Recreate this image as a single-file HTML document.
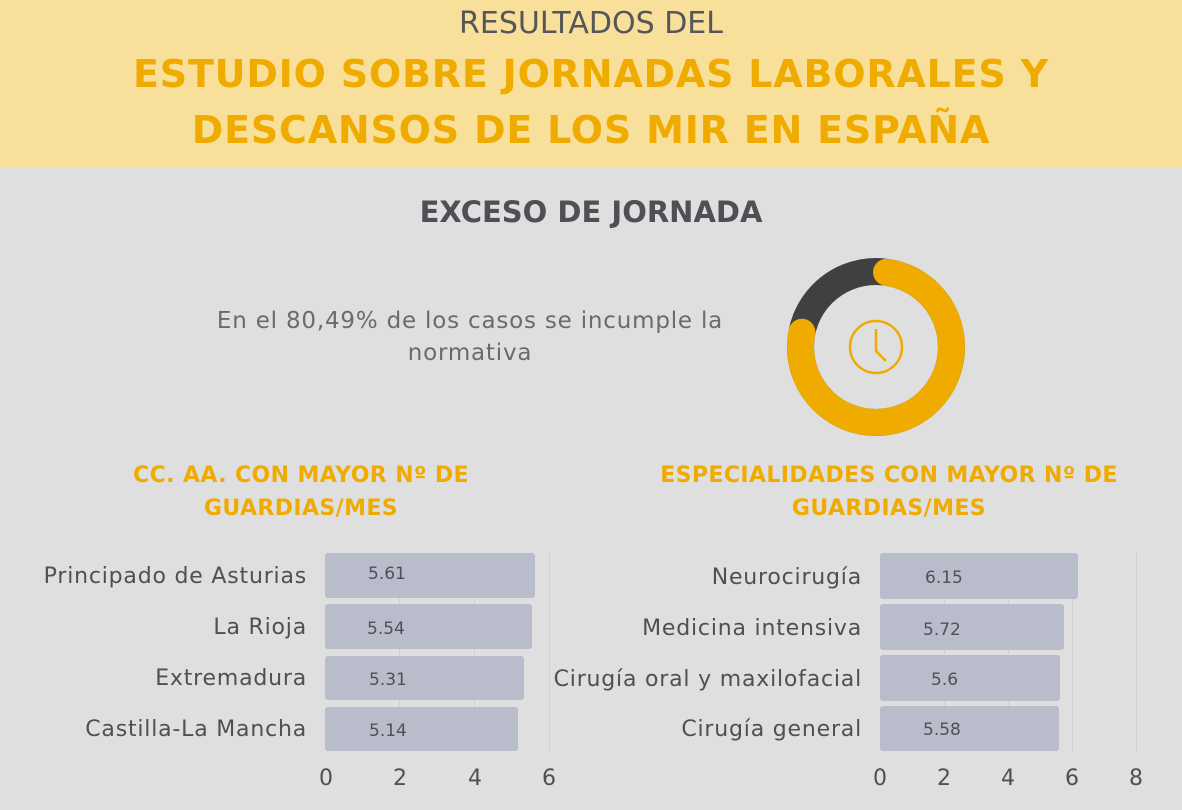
<!DOCTYPE html>
<html><head><meta charset="utf-8"><style>
*{margin:0;padding:0;box-sizing:border-box}
body{width:1182px;height:810px;background:#dfdfe0;font-family:"DejaVu Sans","Liberation Sans",sans-serif;position:relative;overflow:hidden}
.hdr{position:absolute;left:0;top:0;width:1182px;height:168px;background:#f8e09b}
.t{position:absolute;width:100%;text-align:center;white-space:nowrap}
.a{position:absolute;white-space:nowrap}
.lab{font-size:22px;color:#4f4f55;text-align:right;letter-spacing:0.8px}
.bar{position:absolute;background:#b9bccb;border-radius:3px}
.val{position:absolute;font-size:17px;color:#4f4f55}
.grid{position:absolute;width:1px;background:#cfcfd3}
.tick{position:absolute;font-size:22px;color:#4f4f55;transform:translateX(-50%)}
</style></head><body>
<div class="hdr"></div>
<div class="t" style="top:6px;font-size:30px;color:#56565a">RESULTADOS DEL</div>
<div class="t" style="top:52px;font-size:38px;font-weight:bold;color:#f0ab00;letter-spacing:0.8px">ESTUDIO SOBRE JORNADAS LABORALES Y</div>
<div class="t" style="top:108px;font-size:38px;font-weight:bold;color:#f0ab00;letter-spacing:0.8px">DESCANSOS DE LOS MIR EN ESPAÑA</div>
<div class="t" style="top:195px;font-size:29px;font-weight:bold;color:#4f4f55">EXCESO DE JORNADA</div>
<div class="a" style="left:170px;top:305px;width:600px;text-align:center;font-size:23px;line-height:32px;color:#6a6a70;white-space:normal;letter-spacing:0.8px">En el 80,49% de los casos se incumple la<br>normativa</div>
<svg class="a" style="left:776px;top:247px" width="200" height="200">
<circle cx="100" cy="100" r="75.5" fill="none" stroke="#404040" stroke-width="27"/>
<circle cx="100" cy="100" r="75.5" fill="none" stroke="#f0ab00" stroke-width="27" stroke-linecap="round" stroke-dasharray="360 1000" transform="rotate(-82 100 100)"/>
<circle cx="100" cy="100" r="26" fill="none" stroke="#f0ab00" stroke-width="2.5"/>
<polyline points="100,82 100,104 110,114" fill="none" stroke="#f0ab00" stroke-width="2.5"/>
</svg>
<div class="t" style="left:-290px;top:459px;font-size:22px;line-height:33px;font-weight:bold;color:#f0ab00;letter-spacing:0.4px">CC. AA. CON MAYOR Nº DE<br>GUARDIAS/MES</div>
<div class="t" style="left:298px;top:459px;font-size:22px;line-height:33px;font-weight:bold;color:#f0ab00;letter-spacing:0.4px">ESPECIALIDADES CON MAYOR Nº DE<br>GUARDIAS/MES</div>

<div class="grid" style="left:399px;top:553px;height:198px"></div>
<div class="grid" style="left:474px;top:553px;height:198px"></div>
<div class="grid" style="left:549px;top:553px;height:198px"></div>
<div class="grid" style="left:944px;top:553px;height:198px"></div>
<div class="grid" style="left:1008px;top:553px;height:198px"></div>
<div class="grid" style="left:1072px;top:553px;height:198px"></div>
<div class="grid" style="left:1136px;top:553px;height:198px"></div>

<div class="bar" style="left:325px;top:553px;width:210px;height:45px"></div>
<div class="bar" style="left:325px;top:604px;width:207px;height:45px"></div>
<div class="bar" style="left:325px;top:656px;width:199px;height:44px"></div>
<div class="bar" style="left:325px;top:707px;width:193px;height:44px"></div>
<div class="val" style="left:368px;top:564px">5.61</div>
<div class="val" style="left:367px;top:619px">5.54</div>
<div class="val" style="left:369px;top:670px">5.31</div>
<div class="val" style="left:369px;top:721px">5.14</div>
<div class="a lab" style="right:875px;top:564px">Principado de Asturias</div>
<div class="a lab" style="right:875px;top:615px">La Rioja</div>
<div class="a lab" style="right:875px;top:666px">Extremadura</div>
<div class="a lab" style="right:875px;top:717px">Castilla-La Mancha</div>
<div class="tick" style="left:326px;top:766px">0</div>
<div class="tick" style="left:400px;top:766px">2</div>
<div class="tick" style="left:475px;top:766px">4</div>
<div class="tick" style="left:549px;top:766px">6</div>

<div class="bar" style="left:880px;top:553px;width:198px;height:46px"></div>
<div class="bar" style="left:880px;top:604px;width:184px;height:46px"></div>
<div class="bar" style="left:880px;top:655px;width:180px;height:46px"></div>
<div class="bar" style="left:880px;top:706px;width:179px;height:45px"></div>
<div class="val" style="left:925px;top:568px">6.15</div>
<div class="val" style="left:923px;top:620px">5.72</div>
<div class="val" style="left:931px;top:670px">5.6</div>
<div class="val" style="left:923px;top:720px">5.58</div>
<div class="a lab" style="right:320px;top:565px">Neurocirugía</div>
<div class="a lab" style="right:320px;top:616px">Medicina intensiva</div>
<div class="a lab" style="right:320px;top:667px">Cirugía oral y maxilofacial</div>
<div class="a lab" style="right:320px;top:717px">Cirugía general</div>
<div class="tick" style="left:880px;top:766px">0</div>
<div class="tick" style="left:944px;top:766px">2</div>
<div class="tick" style="left:1008px;top:766px">4</div>
<div class="tick" style="left:1072px;top:766px">6</div>
<div class="tick" style="left:1136px;top:766px">8</div>
</body></html>
